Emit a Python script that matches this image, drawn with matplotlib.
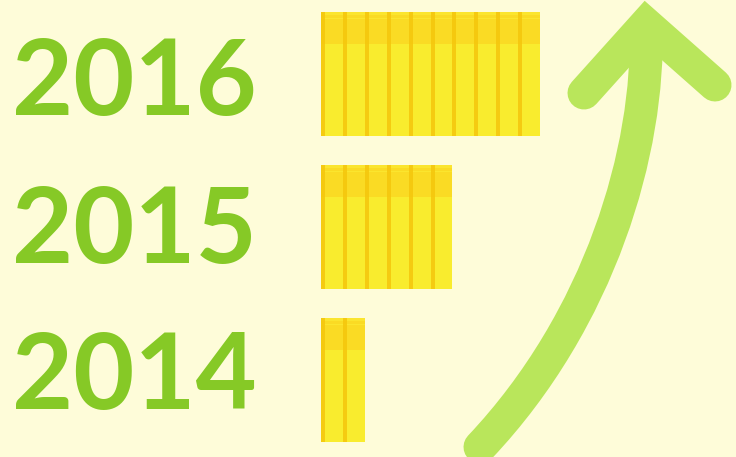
import matplotlib
matplotlib.use("Agg")
import matplotlib.pyplot as plt
from matplotlib.path import Path
from matplotlib.patches import PathPatch
import numpy as np

# ---- data ----
years = ["2014", "2015", "2016"]
coins = [2, 6, 10]

# ---- style ----
BG = "#fefcd9"
TEXT_GREEN = "#86c926"
ARROW_GREEN = "#b9e65b"
COIN = "#f9ec2e"
COIN_TOP = "#fadb24"
COIN_TOP_LINE = "#fbe52e"
STRIPE = "#f5c60c"

W, H, DPI = 736, 457, 100
fig = plt.figure(figsize=(W / DPI, H / DPI), dpi=DPI, facecolor=BG)

# bar axes covering the figure; x in coin units, y in category index
px_per_unit = 21.9
x0_px = 321
ax = fig.add_axes([0, 0, 1, 1])
ax.set_facecolor(BG)
ax.set_xlim(-x0_px / px_per_unit, (W - x0_px) / px_per_unit)
row_px = 153
y2014_px = 380
ax.set_ylim((y2014_px - H) / row_px, y2014_px / row_px)
ax.axis("off")

bar_h = 124 / row_px
band_h = 32 / row_px
stripe_w = 4 / px_per_unit
ypos = np.arange(len(years))

for i, n in enumerate(coins):
    y = ypos[i]
    top = y + bar_h / 2
    ax.barh(y, n, height=bar_h, left=0, color=COIN, linewidth=0, zorder=2)
    # darker top band
    ax.barh(top - band_h / 2, n, height=band_h, left=0, color=COIN_TOP, linewidth=0, zorder=3)
    # thin lighter lines in the band
    ax.barh(top - 1.5 / row_px, n, height=3 / row_px, left=0, color=COIN_TOP_LINE, linewidth=0, zorder=3)
    ax.barh(top - 6.5 / row_px, n, height=1.5 / row_px, left=0, color=COIN_TOP_LINE, linewidth=0, zorder=3)
    # stripes at the left edge of each coin
    ax.barh([y] * n, [stripe_w] * n, height=bar_h, left=np.arange(n), color=STRIPE,
            linewidth=0, alpha=0.85, zorder=4)

# overlay axes in pixel units for labels and arrow decoration
ov = fig.add_axes([0, 0, 1, 1], facecolor="none")
ov.set_xlim(0, W)
ov.set_ylim(H, 0)
ov.axis("off")

label_baselines = [409, 263, 115]
for yr, yb in zip(years, label_baselines):
    ov.text(12, yb, yr, fontsize=76, fontweight="bold", family=["Lato", "DejaVu Sans"],
            color=TEXT_GREEN, ha="left", va="baseline")

lw = 33 * 72 / DPI
verts = [(480, 447), (600, 320), (650, 150), (646, 26)]
codes = [Path.MOVETO, Path.CURVE4, Path.CURVE4, Path.CURVE4]
ov.add_patch(PathPatch(Path(verts, codes), facecolor="none", edgecolor=ARROW_GREEN,
                       linewidth=lw, capstyle="round", joinstyle="round", zorder=5))
ov.plot([584, 646, 715], [93, 24, 85], color=ARROW_GREEN, linewidth=lw,
        solid_capstyle="round", solid_joinstyle="miter", zorder=5)

fig.savefig("out.png", dpi=DPI, facecolor=BG)
